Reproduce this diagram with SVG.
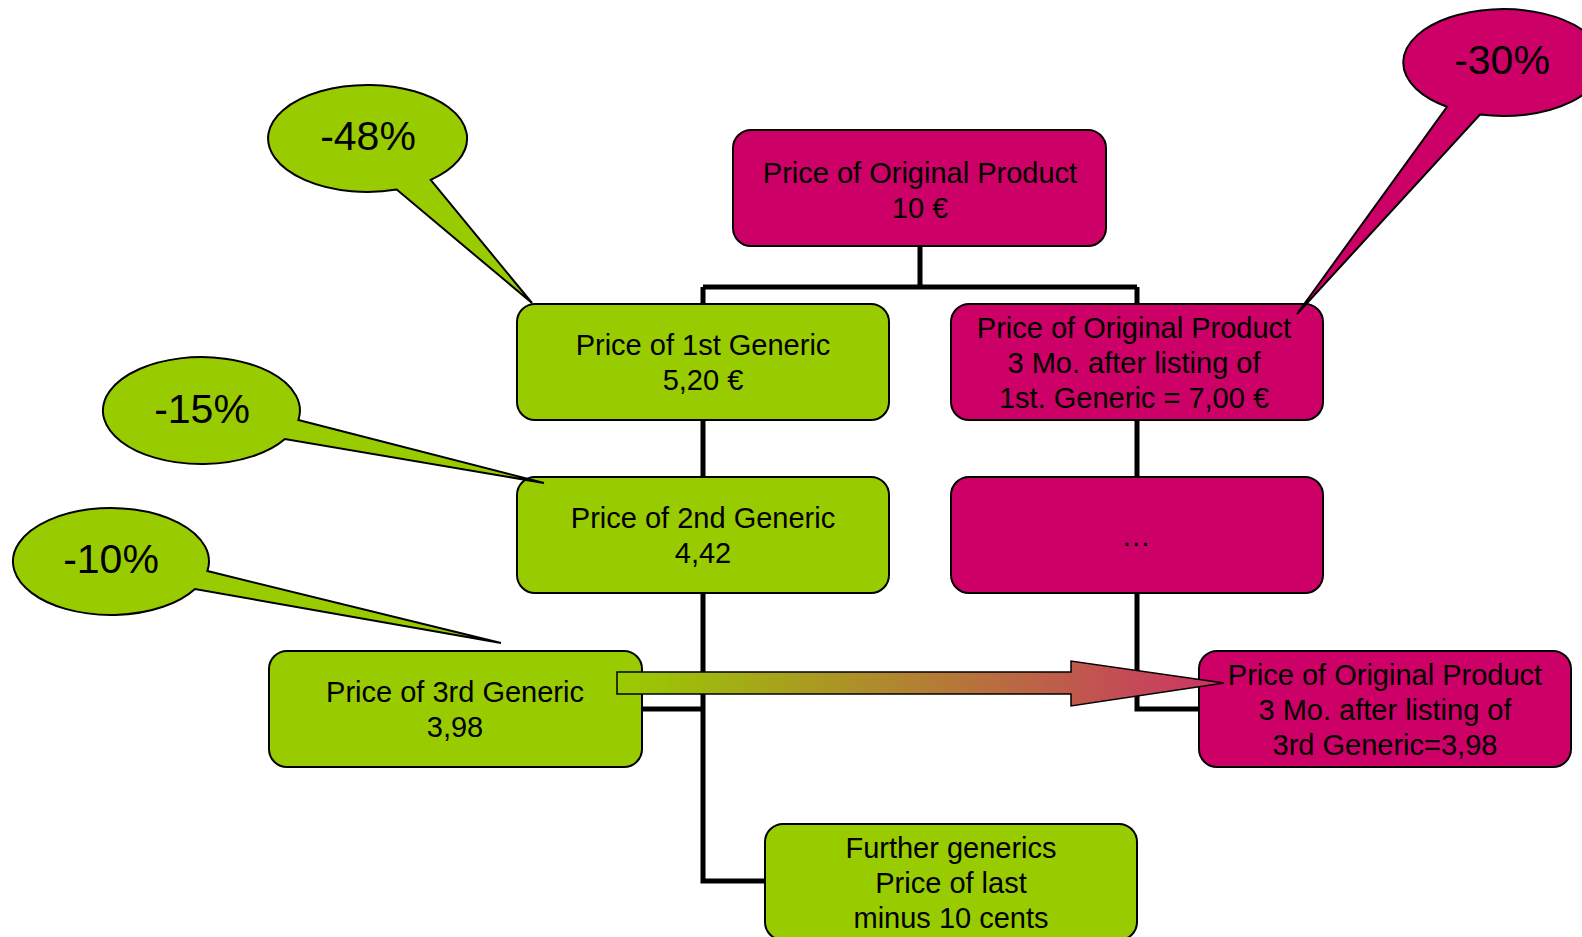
<svg xmlns="http://www.w3.org/2000/svg" width="1582" height="937" viewBox="0 0 1582 937">
<style>
.g{fill:#99cc00;stroke:#000;stroke-width:2}
.m{fill:#cc0066;stroke:#000;stroke-width:2}
.t{font-family:"Liberation Sans",Arial,sans-serif;font-size:29px;fill:#000;text-anchor:middle}
.c{font-family:"Liberation Sans",Arial,sans-serif;font-size:41px;fill:#000;text-anchor:middle}
.ln{fill:none;stroke:#000;stroke-width:5}
</style>
<defs>
<linearGradient id="arrowGrad" gradientUnits="userSpaceOnUse" x1="617" y1="0" x2="1224" y2="0">
<stop offset="0" stop-color="#99cc00"/>
<stop offset="1" stop-color="#cc3366"/>
</linearGradient>
</defs>
<rect width="1582" height="937" fill="#fff"/>
<g id="connectors">
<path class="ln" d="M920,246 V287 M703,287 H1137 M703,287 V304 M1137,287 V304"/>
<path class="ln" d="M703,419 V477 M703,593 V881 H765 M642,709 H703"/>
<path class="ln" d="M1137,419 V477 M1137,593 V709 H1199"/>
</g>
<g id="n-original">
<rect class="m" x="733" y="130" width="373" height="116" rx="18"/>
<text class="t" x="920" y="183">Price of Original Product</text>
<text class="t" x="920" y="218">10 €</text>
</g>
<g id="n-gen1">
<rect class="g" x="517" y="304" width="372" height="116" rx="18"/>
<text class="t" x="703" y="355">Price of 1st Generic</text>
<text class="t" x="703" y="390">5,20 €</text>
</g>
<g id="n-orig-after1">
<rect class="m" x="951" y="304" width="372" height="116" rx="18"/>
<text class="t" x="1134" y="338">Price of Original Product</text>
<text class="t" x="1134" y="373">3 Mo. after listing of</text>
<text class="t" x="1134" y="408">1st. Generic = 7,00 €</text>
</g>
<g id="n-gen2">
<rect class="g" x="517" y="477" width="372" height="116" rx="18"/>
<text class="t" x="703" y="528">Price of 2nd Generic</text>
<text class="t" x="703" y="563">4,42</text>
</g>
<g id="n-dots">
<rect class="m" x="951" y="477" width="372" height="116" rx="18"/>
<text class="t" x="1136" y="546">…</text>
</g>
<g id="n-gen3">
<rect class="g" x="269" y="651" width="373" height="116" rx="18"/>
<text class="t" x="455" y="702">Price of 3rd Generic</text>
<text class="t" x="455" y="737">3,98</text>
</g>
<g id="n-orig-after3">
<rect class="m" x="1199" y="651" width="372" height="116" rx="18"/>
<text class="t" x="1385" y="685">Price of Original Product</text>
<text class="t" x="1385" y="720">3 Mo. after listing of</text>
<text class="t" x="1385" y="755">3rd Generic=3,98</text>
</g>
<g id="n-further">
<rect class="g" x="765" y="824" width="372" height="116" rx="18"/>
<text class="t" x="951" y="858">Further generics</text>
<text class="t" x="951" y="893">Price of last</text>
<text class="t" x="951" y="928">minus 10 cents</text>
</g>
<g id="arrow">
<polygon points="617,672 1071,672 1071,661 1224,683 1071,706 1071,694 617,694" fill="url(#arrowGrad)" stroke="#000" stroke-width="1.5"/>
</g>
<g id="callout-48">
<path class="g" d="M430.7,179.8 L532,303 L396.7,189.6 A99.5 53.5 0 1 1 430.7,179.8 Z"/>
<text class="c" x="368" y="150">-48%</text>
</g>
<g id="callout-30">
<path class="m" d="M1447,106.8 L1297,314 L1480,114.6 A100 53.5 0 1 0 1447,106.8 Z"/>
<text class="c" x="1502" y="74">-30%</text>
</g>
<g id="callout-15">
<path class="g" d="M298.4,420 L544,483 L284.9,439 A98.5 53.5 0 1 1 298.4,420 Z"/>
<text class="c" x="202" y="423">-15%</text>
</g>
<g id="callout-10">
<path class="g" d="M207.4,571 L501,643 L195,589 A98 53.5 0 1 1 207.4,571 Z"/>
<text class="c" x="111" y="573">-10%</text>
</g>
</svg>
